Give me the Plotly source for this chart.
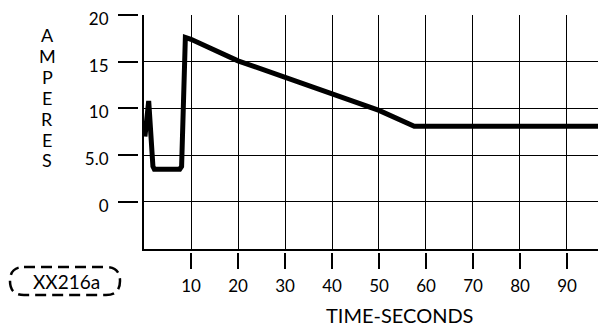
import plotly.graph_objects as go

# ---- data ----
time_s = [0.2, 1.0, 1.9, 2.2, 7.6, 8.0, 8.8, 10, 20, 30, 40, 50, 57.5, 98.5]
amperes = [7.0, 10.8, 3.8, 3.5, 3.5, 3.8, 17.6, 17.4, 15.1, 13.3, 11.5, 9.8, 8.1, 8.1]

x_tick_vals = [10, 20, 30, 40, 50, 60, 70, 80, 90]
x_tick_text = ["10", "20", "30", "40", "50", "60", "70", "80", "90"]
y_tick_vals = [0, 5, 10, 15, 20]
y_tick_text = ["0", "5.0", "10", "15", "20"]
y_title_letters = ["A", "M", "P", "E", "R", "E", "S"]

W, H = 606, 329
OFF = 8  # page body margin
FONT = "Lato"

def px(x):
    return (x - OFF) / W

def py(y):
    return 1 - (y - OFF) / H

x_range = [0, 98.3]
y_range = [-5, 20]

fig = go.Figure()
fig.add_trace(go.Scatter(
    x=time_s, y=amperes, mode="lines",
    line=dict(color="black", width=5),
    hoverinfo="skip", showlegend=False,
))

grid = dict(showgrid=True, gridcolor="black", gridwidth=1)

fig.update_layout(
    width=W, height=H,
    margin=dict(l=0, r=0, t=0, b=0, pad=0, autoexpand=False),
    paper_bgcolor="white", plot_bgcolor="white",
    showlegend=False,
    font=dict(family=FONT, color="black", size=16),
    xaxis=dict(domain=[px(144), px(606)], range=x_range, dtick=10, tick0=0,
               showticklabels=False, ticks="", zeroline=False, automargin=False,
               showline=True, linecolor="black", linewidth=2, **grid),
    yaxis=dict(domain=[py(248.7), py(15)], range=y_range, dtick=5, tick0=0,
               showticklabels=False, ticks="", zeroline=False, automargin=False,
               showline=True, linecolor="black", linewidth=2, **grid),
    xaxis2=dict(overlaying="x", anchor="free", position=py(252), range=x_range,
                tickmode="array", tickvals=x_tick_vals, ticktext=x_tick_text,
                ticks="outside", ticklen=16, tickwidth=2, tickcolor="black",
                showgrid=False, zeroline=False, showline=False, automargin=False,
                ticklabeloverflow="allow",
                tickfont=dict(family=FONT, size=17, color="black"),
                ticklabelstandoff=3),
    yaxis2=dict(overlaying="y", anchor="free", position=px(138), side="left",
                range=y_range, tickmode="array", tickvals=y_tick_vals,
                ticktext=y_tick_text, ticks="outside", ticklen=20, tickwidth=2,
                tickcolor="black", showgrid=False, zeroline=False, showline=False,
                automargin=False, ticklabeloverflow="allow",
                tickfont=dict(family=FONT, size=17, color="black"),
                ticklabelstandoff=6, ticklabelshift=4),
)

fig.add_trace(go.Scatter(x=[None], y=[None], xaxis="x2", yaxis="y2",
                         showlegend=False, hoverinfo="skip"))

def note(text, x, y, size):
    fig.add_annotation(text=text, xref="paper", yref="paper", x=px(x), y=py(y),
                       xanchor="center", yanchor="middle", showarrow=False,
                       align="center", font=dict(family=FONT, size=size, color="black"))

for i, ch in enumerate(y_title_letters):
    note(ch, 47, 35.5 + i * 20.8, 18)
note("TIME-SECONDS", 400, 315, 20)
note("XX216a", 66, 281.5, 19)

# dashed rounded label box
pts = [(24, 267), (106, 267), (120, 267), (120, 281), (120, 295), (106, 295),
       (24, 295), (10, 295), (10, 281), (10, 267), (24, 267)]
P = [f"{px(a):.5f},{py(b):.5f}" for a, b in pts]
path = (f"M {P[0]} L {P[1]} Q {P[2]} {P[3]} Q {P[4]} {P[5]} L {P[6]} "
        f"Q {P[7]} {P[8]} Q {P[9]} {P[10]} Z")
fig.add_shape(type="path", path=path, xref="paper", yref="paper",
              line=dict(color="black", width=2.5, dash="11px,6px"))

fig.write_html("out.html")
